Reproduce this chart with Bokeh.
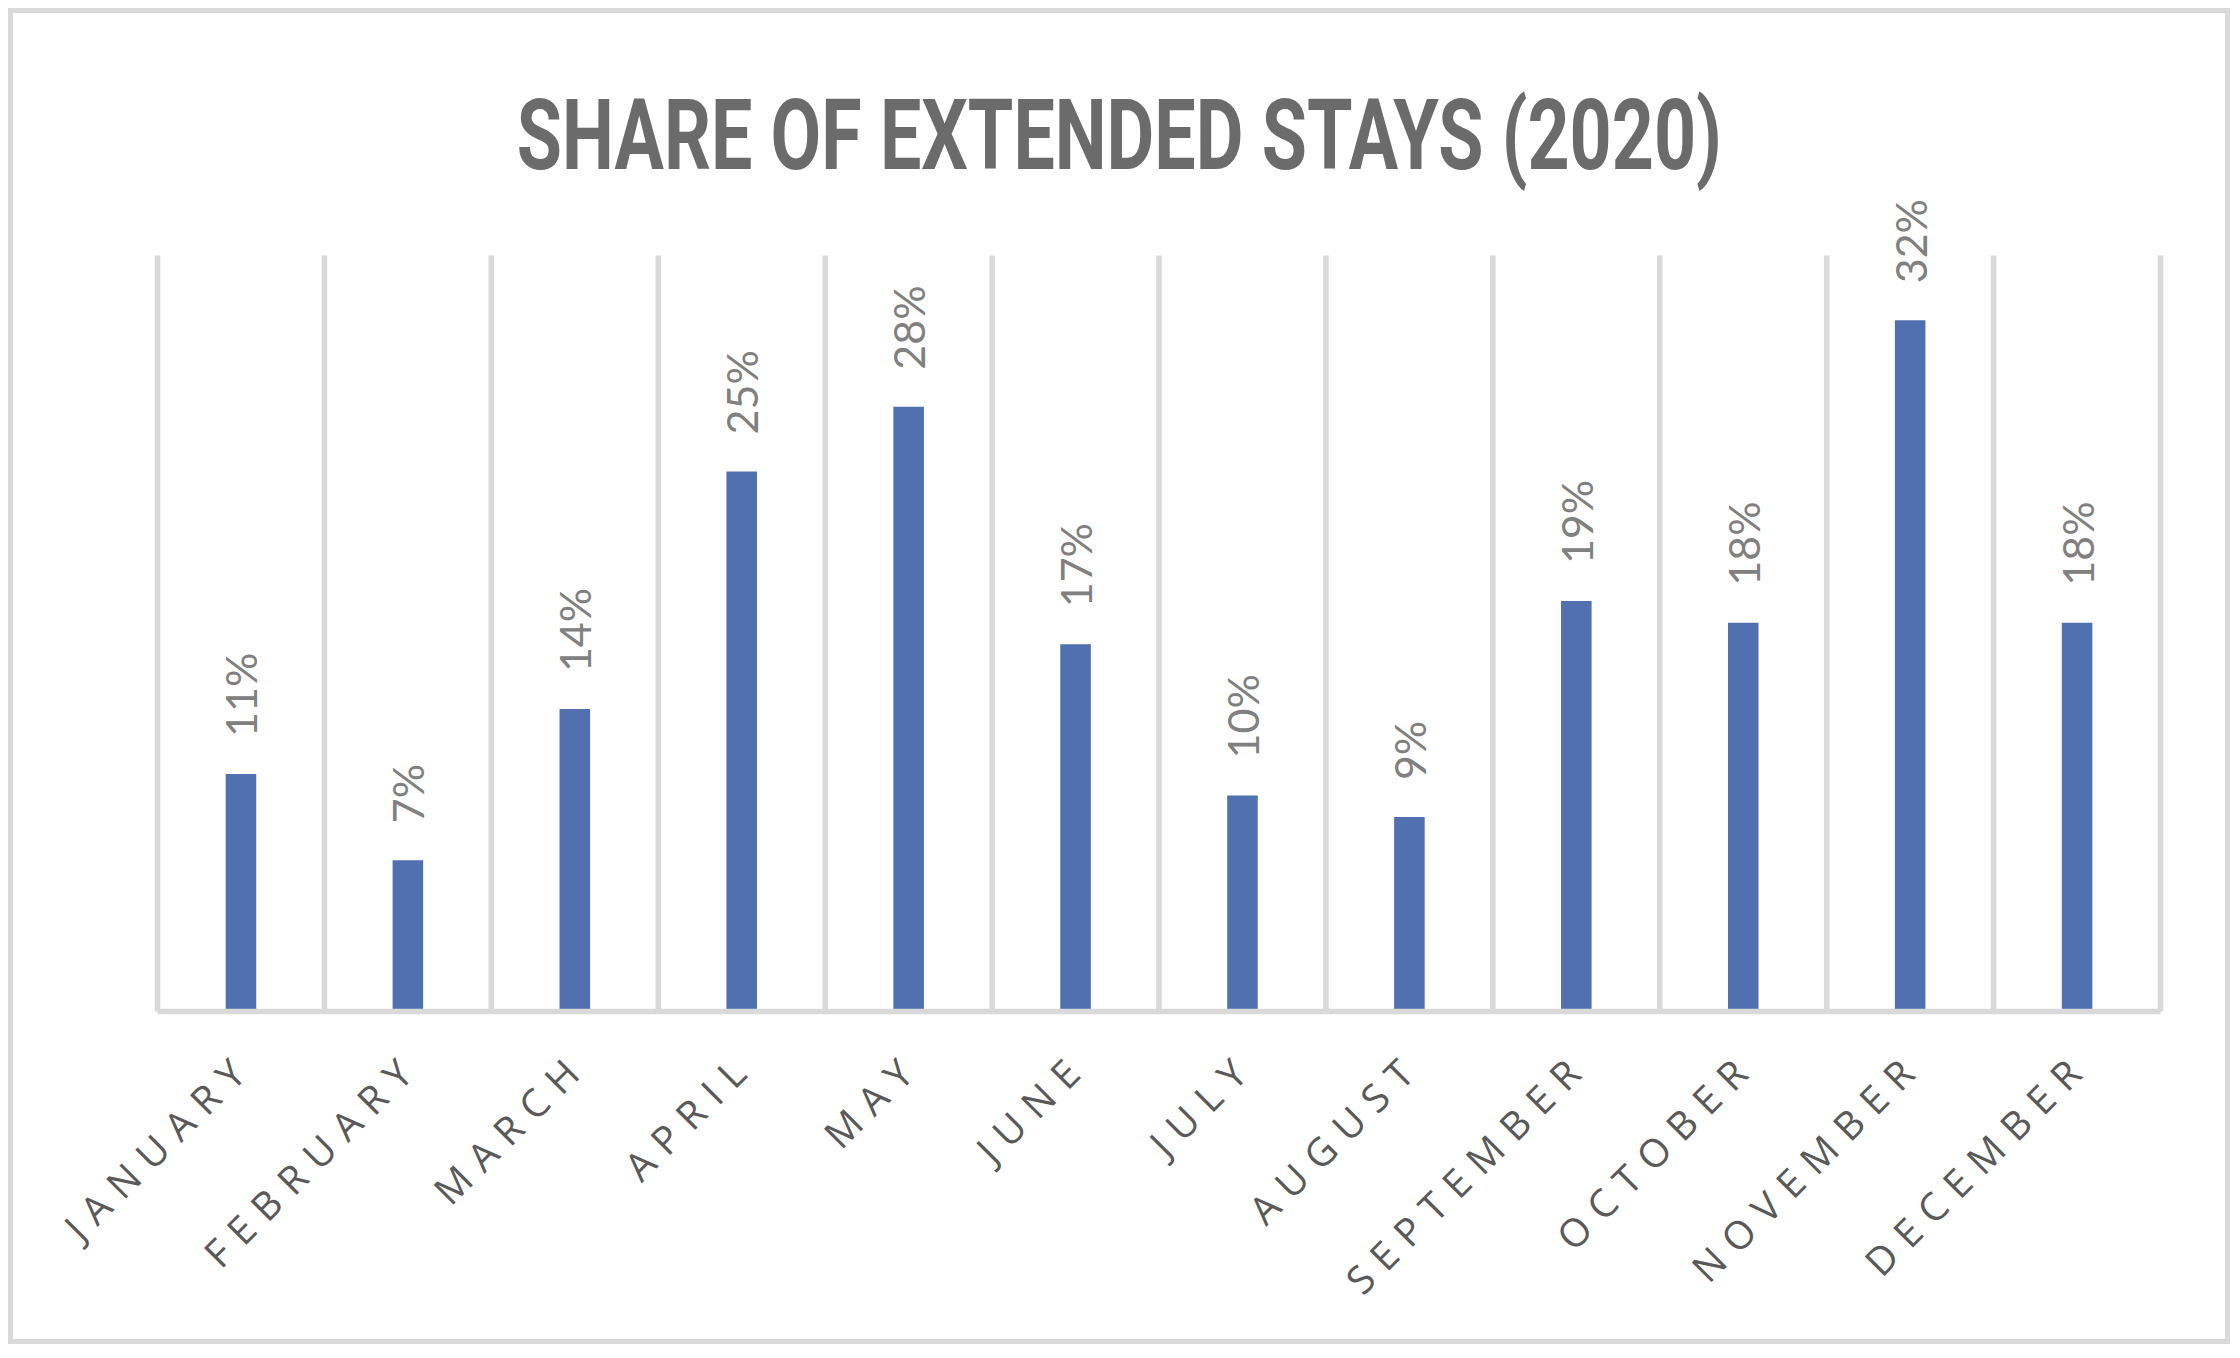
from math import pi, sqrt
from bokeh.plotting import figure
from bokeh.layouts import column
from bokeh.models import Range1d, ColumnDataSource, InlineStyleSheet
from bokeh.core.properties import value
from bokeh.embed import file_html
from bokeh.resources import INLINE

# ---------------- data ----------------
months = ["JANUARY", "FEBRUARY", "MARCH", "APRIL", "MAY", "JUNE",
          "JULY", "AUGUST", "SEPTEMBER", "OCTOBER", "NOVEMBER", "DECEMBER"]
shares = [11, 7, 14, 25, 28, 17, 10, 9, 19, 18, 32, 18]
share_labels = [f"{v}%" for v in shares]
title_text = "SHARE OF EXTENDED STAYS (2020)"
y_max = 35

# ---------------- layout constants ----------------
W = 2222
H_T, H_A, H_B = 189, 823, 324
X0_PX = 149.0        # canvas px of first category boundary
UNIT_PX = 166.92     # px per category
Y0_PX = 814.0        # canvas px (panel A) of the baseline
Y_UNIT_PX = 21.6     # px per percentage point
LETTER_SPACING = 12
MONTH_FONT = 39
TITLE_SQUEEZE = 0.75
TITLE_SHIFT = W * (1 - TITLE_SQUEEZE ** 2) / 2

GRID_COLOR = "#d9d9d9"
BAR_COLOR = "#5070b0"


def panel(h, x_range, y_range, css=None):
    p = figure(width=W, height=h, x_range=x_range, y_range=y_range,
               output_backend="svg", toolbar_location=None, tools="",
               x_axis_location=None, y_axis_location=None, min_border=0,
               outline_line_color=None, background_fill_color=None,
               border_fill_color=None)
    p.grid.visible = False
    if css:
        p.stylesheets = [InlineStyleSheet(css=css)]
    return p


x_range = Range1d(-X0_PX / UNIT_PX, (W - X0_PX) / UNIT_PX)

# ---------------- title panel ----------------
t = panel(H_T, Range1d(0, W), Range1d(H_T, 0),
          css=(".bk-Canvas { transform-origin: 0 50%%; "
               "transform: translateX(%.1fpx) scaleX(%s); }"
               % (TITLE_SHIFT, TITLE_SQUEEZE)))
t.text(x=[W * TITLE_SQUEEZE / 2], y=[127], text=[title_text],
       text_align="center", text_baseline="alphabetic",
       text_font=value("Roboto"), text_font_style="bold",
       text_font_size="98px", text_color="#6b6b6b")

# ---------------- bars panel ----------------
a = panel(H_A, x_range,
          Range1d(-(H_A - Y0_PX) / Y_UNIT_PX, Y0_PX / Y_UNIT_PX))

centers = [i + 0.5 for i in range(len(months))]
src = ColumnDataSource(dict(x=centers, month=months, share=shares,
                            label=share_labels))
bounds = ColumnDataSource(dict(x=list(range(len(months) + 1))))

a.segment(x0="x", y0=0, x1="x", y1=y_max, source=bounds,
          line_color=GRID_COLOR, line_width=5.5)
a.vbar(x="x", top="share", bottom=0, width=0.183, source=src,
       fill_color=BAR_COLOR, line_color=None)
a.segment(x0=[0], y0=[0], x1=[len(months)], y1=[0],
          line_color=GRID_COLOR, line_width=5.5)
a.text(x="x", y="share", text="label", source=src, angle=pi / 2,
       text_align="left", text_baseline="alphabetic",
       x_offset=0, y_offset=-37,
       text_font=value("Lato"), text_font_size="43px", text_color="#808080")

# ---------------- month labels panel ----------------
b = panel(H_B, x_range, Range1d(H_B, 0),
          css=f":host {{ letter-spacing: {LETTER_SPACING}px; }}")
r = 1 / sqrt(2)
xoff = [-4 - r * LETTER_SPACING * (len(m) - 1) for m in months]
yoff = [r * LETTER_SPACING * (len(m) - 1) for m in months]
msrc = ColumnDataSource(dict(x=centers, month=months, xo=xoff, yo=yoff))
b.text(x="x", y=45, text="month", source=msrc, angle=pi / 4,
       x_offset="xo", y_offset="yo",
       text_align="right", text_baseline="alphabetic",
       text_font=value("Open Sans"), text_font_size=f"{MONTH_FONT}px",
       text_color="#595959")

layout = column(t, a, b, margin=(8, 0, 0, 8), stylesheets=[InlineStyleSheet(
    css=":host { box-shadow: inset 0 0 0 5px #d9d9d9; background: white; }")])

open("out.html", "w").write(file_html(layout, INLINE))
